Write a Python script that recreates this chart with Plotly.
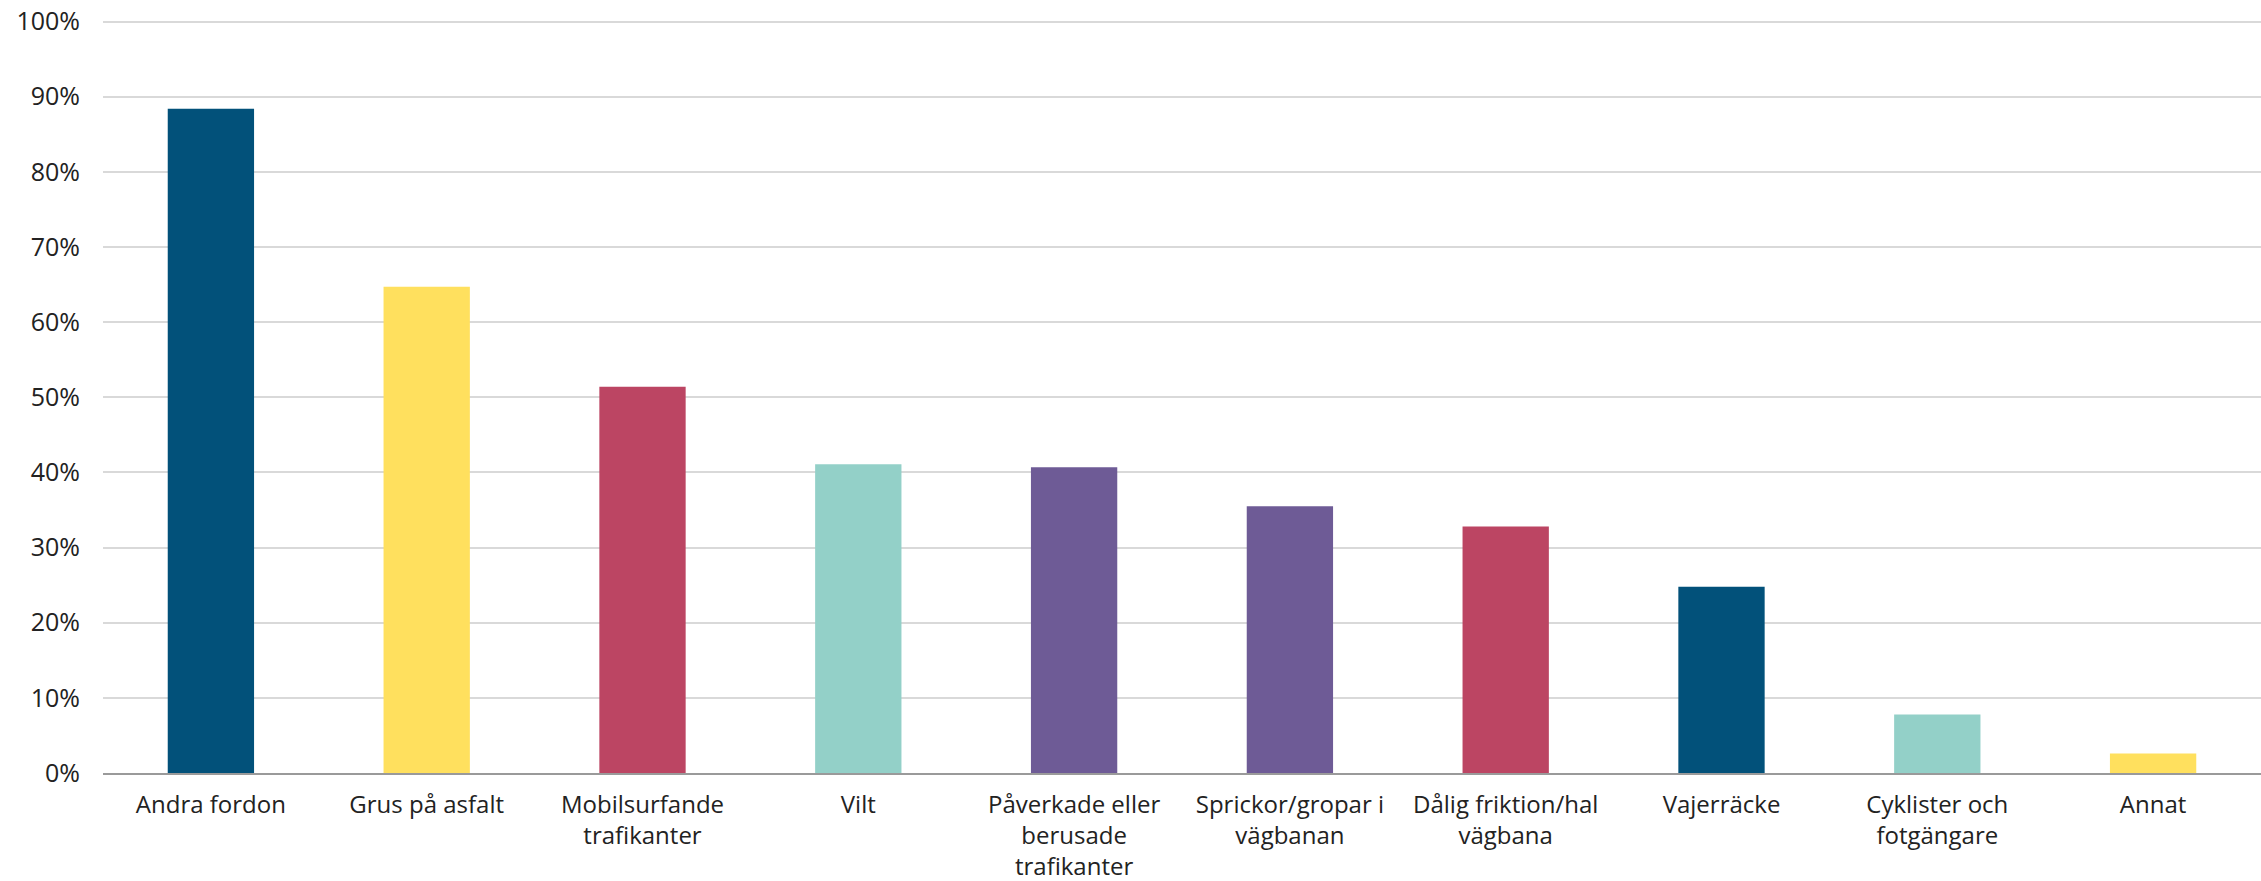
import plotly.graph_objects as go

categories = [
    "Andra fordon",
    "Grus på asfalt",
    "Mobilsurfande<br>trafikanter",
    "Vilt",
    "Påverkade eller<br>berusade<br>trafikanter",
    "Sprickor/gropar i<br>vägbanan",
    "Dålig friktion/hal<br>vägbana",
    "Vajerräcke",
    "Cyklister och<br>fotgängare",
    "Annat",
]
values = [0.884, 0.647, 0.514, 0.411, 0.407, 0.355, 0.328, 0.248, 0.078, 0.026]
colors = ["#02517A", "#FFE05E", "#BC4563", "#93D0C8", "#6E5B96",
          "#6E5B96", "#BC4563", "#02517A", "#93D0C8", "#FFE05E"]

fig = go.Figure(go.Bar(x=categories, y=values, marker=dict(color=colors, line=dict(width=0)), width=0.4))

font_family = "Open Sans"
fig.update_layout(
    width=2261, height=881,
    margin=dict(l=103, r=0, t=20, b=108),
    plot_bgcolor="white", paper_bgcolor="white",
    showlegend=False,
    font=dict(family=font_family, size=25, color="#222222"),
    bargap=0.6,
)
fig.update_yaxes(
    range=[0, 1.002], tickvals=[i / 10 for i in range(11)], tickformat=".0%",
    showgrid=True, gridcolor="#D9D9D9", gridwidth=1.5,
    zeroline=False, showline=False, ticks="", ticklabelstandoff=22,
    ticklabeloverflow="allow",
    tickfont=dict(size=25, color="#222222"), automargin=False,
)
fig.update_xaxes(
    showline=True, linecolor="#9A9A9A", linewidth=2,
    ticks="", ticklabelstandoff=9,
    ticklabeloverflow="allow",
    tickfont=dict(size=24, color="#222222"),
    tickangle=0, automargin=False,
)
fig.write_html("out.html", config={"displayModeBar": False},
               post_script="document.body.style.margin='0';")
